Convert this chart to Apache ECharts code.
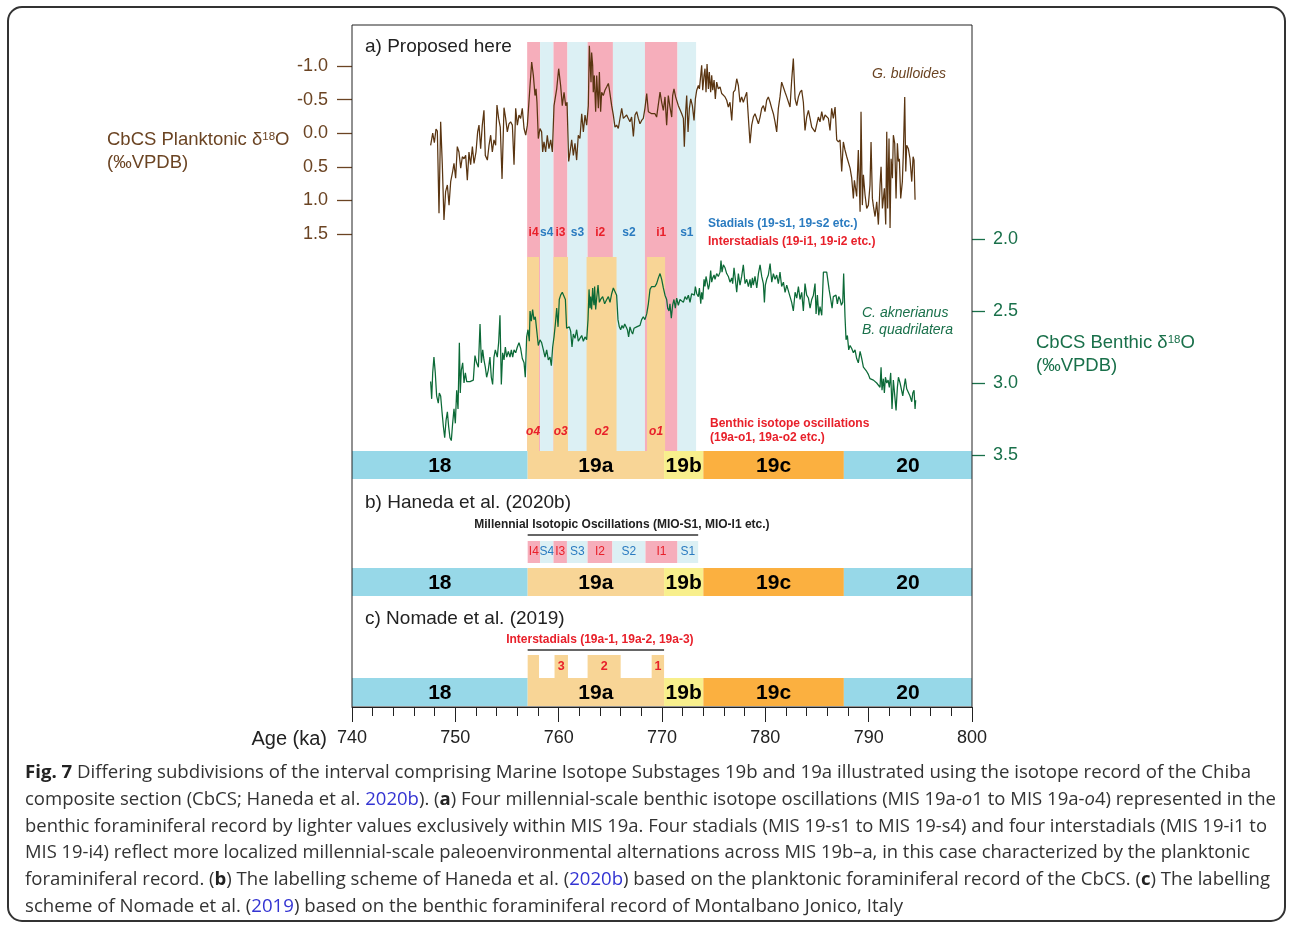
<!DOCTYPE html>
<html><head><meta charset="utf-8">
<script src="https://cdn.jsdelivr.net/npm/echarts@6/dist/echarts.min.js"></script>
<style>html,body{margin:0;padding:0;background:#fff}#c{width:1292px;height:925px}</style>
</head><body><div id="c"></div><script>
// ---------------- DATA ----------------
// Planktonic (G. bulloides) δ18O [age ka, ‰VPDB]
const planktonic = [[747.61,0.18],[747.81,0.00],[747.97,0.14],[748.13,-0.06],[748.26,-0.03],[748.42,1.19],[748.58,-0.17],[748.74,0.47],[748.90,1.29],[749.06,0.87],[749.23,0.77],[749.39,1.07],[749.55,0.72],[749.74,0.57],[749.87,0.45],[750.03,0.67],[750.19,0.20],[750.35,0.28],[750.52,0.52],[750.68,0.35],[750.84,0.38],[751.00,0.33],[751.16,0.70],[751.32,0.28],[751.48,0.47],[751.65,0.20],[751.81,0.45],[752.00,0.28],[752.16,-0.02],[752.29,-0.12],[752.45,0.23],[752.61,-0.12],[752.77,-0.34],[752.90,0.33],[753.10,0.40],[753.26,0.18],[753.42,0.03],[753.58,0.28],[753.74,0.10],[753.90,0.18],[754.03,-0.42],[754.19,-0.22],[754.35,-0.09],[754.52,0.68],[754.71,-0.38],[754.87,-0.22],[755.03,-0.02],[755.19,-0.14],[755.35,-0.17],[755.52,-0.12],[755.68,0.47],[755.84,-0.37],[756.00,-0.12],[756.16,-0.27],[756.32,-0.22],[756.48,-0.37],[756.65,-0.07],[756.81,0.03],[756.97,-0.12],[757.23,-0.71],[757.39,-1.06],[757.55,-0.86],[757.71,-0.56],[757.81,-0.66],[757.90,-0.46],[758.03,0.08],[758.19,-0.07],[758.35,-0.02],[758.45,0.28],[758.58,0.13],[758.74,0.28],[758.90,0.03],[759.06,0.23],[759.23,0.10],[759.39,0.28],[759.55,-0.41],[759.81,-0.66],[760.00,-0.96],[760.19,-0.71],[760.35,-0.41],[760.52,-0.61],[760.68,-0.41],[760.81,-0.46],[760.97,0.42],[761.10,0.28],[761.26,0.10],[761.42,0.33],[761.58,0.15],[761.74,0.40],[761.90,0.03],[762.06,0.08],[762.23,-0.29],[762.39,-0.02],[762.55,-0.27],[762.71,-0.12],[762.87,-0.41],[762.97,-1.30],[763.03,-1.11],[763.13,-0.76],[763.19,-1.20],[763.29,-1.01],[763.35,-0.61],[763.45,-0.86],[763.58,-0.32],[763.68,-0.86],[763.84,-0.37],[763.94,-0.91],[764.06,-0.32],[764.16,-0.61],[764.32,-0.56],[764.48,-0.64],[764.65,-0.69],[764.81,-0.74],[764.90,-0.66],[765.13,-0.41],[765.29,-0.27],[765.45,-0.09],[765.61,-0.12],[765.77,-0.07],[765.94,-0.09],[766.10,-0.37],[766.26,-0.22],[766.42,-0.24],[766.58,-0.27],[766.74,-0.22],[766.90,-0.17],[767.06,-0.24],[767.23,0.05],[767.39,-0.27],[767.55,-0.32],[767.71,-0.22],[767.87,-0.14],[768.03,-0.19],[768.19,-0.22],[768.35,-0.37],[768.52,-0.59],[768.68,-0.32],[768.84,-0.32],[769.00,-0.29],[769.16,-0.27],[769.32,-0.29],[769.48,-0.24],[769.81,-0.61],[769.97,-0.46],[770.13,-0.34],[770.29,-0.54],[770.45,-0.12],[770.61,-0.56],[770.77,-0.39],[770.94,-0.24],[771.03,-0.56],[771.16,-0.66],[771.32,-0.54],[771.42,-0.56],[771.58,-0.41],[771.91,-0.29],[772.07,-0.22],[772.16,0.20],[772.29,-0.32],[772.39,-0.56],[772.52,-0.02],[772.65,-0.37],[772.78,-0.51],[772.94,-0.41],[773.10,-0.19],[773.23,-0.51],[773.36,-0.64],[773.52,-0.71],[773.62,-0.66],[773.75,-0.86],[773.84,-1.01],[773.94,-0.64],[774.07,-0.86],[774.16,-0.96],[774.26,-0.61],[774.36,-1.03],[774.49,-0.66],[774.58,-0.91],[774.71,-0.61],[774.81,-0.86],[774.91,-0.64],[775.04,-0.79],[775.16,-0.51],[775.29,-0.76],[775.45,-0.66],[775.62,-0.69],[775.78,-0.59],[775.94,-0.61],[776.10,-0.54],[776.26,-0.49],[776.42,-0.39],[776.58,-0.46],[776.75,-0.19],[776.91,-0.61],[777.07,-0.64],[777.23,-0.81],[777.39,-0.71],[777.55,-0.46],[777.71,-0.54],[777.87,-0.46],[778.04,-0.54],[778.20,-0.61],[778.36,-0.61],[778.52,0.15],[778.68,-0.12],[778.84,-0.24],[779.00,-0.29],[779.16,-0.27],[779.33,-0.14],[779.49,-0.24],[779.65,-0.37],[779.81,-0.41],[779.97,-0.32],[780.13,-0.49],[780.29,-0.54],[780.46,-0.46],[780.62,-0.37],[780.78,-0.29],[780.94,-0.17],[781.10,-0.02],[781.26,-0.37],[781.42,-0.54],[781.58,-0.76],[781.75,-0.76],[781.91,-0.61],[782.07,-0.54],[782.23,-0.56],[782.39,-0.39],[782.55,-0.79],[782.71,-1.11],[782.88,-0.51],[783.04,-0.41],[783.20,-0.54],[783.36,-0.61],[783.52,-0.64],[783.68,-0.46],[783.84,-0.04],[784.00,-0.24],[784.17,-0.34],[784.33,-0.22],[784.49,-0.09],[784.65,-0.07],[784.81,-0.02],[784.97,0.00],[785.13,-0.24],[785.29,-0.17],[785.46,-0.32],[785.62,-0.19],[785.78,-0.27],[785.94,-0.29],[786.10,-0.22],[786.26,-0.04],[786.42,-0.37],[786.58,-0.22],[786.75,-0.39],[786.91,0.10],[787.07,0.13],[787.23,0.10],[787.39,0.57],[787.55,0.13],[787.71,0.25],[787.88,0.35],[788.04,0.35],[788.20,0.52],[788.36,0.67],[788.52,0.97],[788.62,0.70],[788.75,0.72],[788.84,0.94],[789.00,0.25],[789.17,1.17],[789.26,-0.32],[789.39,1.07],[789.49,0.62],[789.65,0.92],[789.81,1.12],[789.97,1.07],[790.13,0.77],[790.23,0.13],[790.36,0.97],[790.46,1.09],[790.62,1.24],[790.78,1.02],[790.94,1.36],[791.10,0.77],[791.20,0.50],[791.33,1.12],[791.42,1.14],[791.52,0.82],[791.65,1.36],[791.75,-0.02],[791.84,1.12],[791.97,0.08],[792.07,1.41],[792.17,0.38],[792.30,0.67],[792.39,0.03],[792.52,0.15],[792.65,0.97],[792.78,0.15],[792.88,0.42],[792.97,0.38],[793.10,0.97],[793.26,0.72],[793.36,0.28],[793.49,-0.54],[793.59,0.57],[793.68,0.18],[793.84,0.23],[794.00,0.38],[794.17,0.72],[794.30,0.35],[794.39,0.40],[794.49,0.99]];

// Benthic (C. aknerianus / B. quadrilatera) δ18O [age ka, ‰VPDB]
const benthic = [[747.61,2.99],[747.71,3.11],[747.81,2.93],[747.93,2.82],[748.06,2.93],[748.19,3.09],[748.35,3.14],[748.45,3.07],[748.58,3.09],[748.71,3.20],[748.84,3.30],[748.97,3.38],[749.10,3.26],[749.23,3.20],[749.35,3.30],[749.48,3.38],[749.61,3.40],[749.74,3.28],[749.87,3.18],[750.00,3.28],[750.13,3.05],[750.26,3.18],[750.39,2.72],[750.48,3.07],[750.58,2.91],[750.71,2.86],[750.84,3.00],[750.97,2.93],[751.10,2.99],[751.26,3.00],[751.42,2.99],[751.58,2.99],[751.74,2.98],[751.90,2.81],[752.06,2.86],[752.23,2.89],[752.39,2.59],[752.52,2.86],[752.65,2.77],[752.77,2.84],[752.90,2.89],[753.03,2.96],[753.19,2.91],[753.35,2.82],[753.48,2.96],[753.61,3.01],[753.74,2.82],[753.87,2.77],[754.06,2.82],[754.19,2.72],[754.32,2.53],[754.45,3.01],[754.58,2.79],[754.71,2.84],[754.84,2.75],[754.97,2.82],[755.13,2.78],[755.29,2.82],[755.42,2.77],[755.55,2.82],[755.68,2.77],[755.84,2.79],[756.00,2.75],[756.16,2.72],[756.32,2.76],[756.48,2.83],[756.65,2.86],[756.77,2.96],[756.90,2.68],[757.03,2.63],[757.16,2.71],[757.23,2.50],[757.35,2.57],[757.48,2.49],[757.61,2.56],[757.74,2.54],[757.87,2.63],[758.03,2.74],[758.19,2.70],[758.35,2.72],[758.52,2.77],[758.68,2.82],[758.84,2.77],[759.00,2.84],[759.16,2.82],[759.29,2.88],[759.42,2.75],[759.55,2.68],[759.68,2.59],[759.81,2.48],[759.94,2.61],[760.06,2.42],[760.19,2.39],[760.35,2.37],[760.52,2.38],[760.65,2.42],[760.77,2.62],[760.90,2.63],[761.03,2.61],[761.16,2.64],[761.29,2.75],[761.42,2.66],[761.58,2.69],[761.74,2.63],[761.90,2.71],[762.06,2.69],[762.23,2.67],[762.39,2.71],[762.55,2.68],[762.71,2.70],[762.84,2.56],[762.94,2.35],[763.03,2.48],[763.10,2.40],[763.19,2.49],[763.29,2.34],[763.35,2.42],[763.42,2.46],[763.48,2.33],[763.58,2.49],[763.68,2.41],[763.81,2.32],[763.94,2.44],[764.06,2.42],[764.26,2.40],[764.45,2.45],[764.65,2.42],[764.81,2.40],[764.97,2.44],[765.13,2.38],[765.29,2.34],[765.45,2.35],[765.61,2.39],[765.74,2.56],[765.87,2.61],[766.00,2.63],[766.13,2.60],[766.26,2.62],[766.39,2.59],[766.52,2.61],[766.65,2.63],[766.77,2.68],[766.90,2.61],[767.03,2.64],[767.16,2.66],[767.29,2.62],[767.42,2.61],[767.55,2.61],[767.71,2.61],[767.87,2.60],[768.03,2.56],[768.19,2.54],[768.35,2.56],[768.52,2.52],[768.68,2.45],[768.84,2.35],[769.00,2.33],[769.16,2.32],[769.32,2.33],[769.48,2.31],[769.65,2.27],[769.81,2.24],[769.97,2.28],[770.13,2.34],[770.29,2.39],[770.45,2.42],[770.55,2.48],[770.68,2.50],[770.77,2.45],[770.90,2.55],[771.03,2.46],[771.16,2.42],[771.29,2.48],[771.42,2.41],[771.58,2.46],[771.74,2.42],[771.91,2.41],[772.07,2.44],[772.23,2.40],[772.39,2.42],[772.55,2.39],[772.71,2.44],[772.87,2.38],[773.04,2.37],[773.13,2.39],[773.23,2.33],[773.36,2.38],[773.52,2.40],[773.62,2.34],[773.75,2.45],[773.84,2.37],[773.94,2.42],[774.07,2.28],[774.16,2.33],[774.26,2.26],[774.39,2.31],[774.49,2.35],[774.58,2.32],[774.71,2.22],[774.81,2.30],[774.91,2.27],[775.04,2.25],[775.13,2.28],[775.29,2.24],[775.45,2.26],[775.62,2.23],[775.71,2.15],[775.81,2.23],[775.94,2.18],[776.10,2.20],[776.26,2.24],[776.42,2.26],[776.58,2.30],[776.75,2.27],[776.84,2.31],[776.97,2.20],[777.10,2.28],[777.23,2.37],[777.39,2.24],[777.55,2.32],[777.71,2.26],[777.87,2.18],[778.04,2.31],[778.20,2.28],[778.36,2.33],[778.52,2.28],[778.62,2.34],[778.75,2.27],[778.84,2.32],[779.00,2.26],[779.17,2.34],[779.33,2.24],[779.49,2.18],[779.65,2.26],[779.81,2.31],[779.91,2.44],[780.00,2.32],[780.13,2.28],[780.29,2.25],[780.46,2.17],[780.62,2.30],[780.78,2.24],[780.94,2.28],[781.10,2.25],[781.26,2.31],[781.42,2.23],[781.58,2.33],[781.75,2.30],[781.91,2.37],[782.07,2.32],[782.23,2.31],[782.39,2.40],[782.55,2.44],[782.71,2.50],[782.88,2.37],[783.04,2.41],[783.20,2.33],[783.36,2.42],[783.52,2.37],[783.68,2.50],[783.84,2.31],[784.00,2.39],[784.17,2.41],[784.33,2.48],[784.49,2.42],[784.65,2.39],[784.81,2.31],[784.91,2.52],[785.04,2.39],[785.17,2.53],[785.29,2.47],[785.46,2.53],[785.62,2.23],[785.78,2.23],[785.94,2.23],[786.04,2.24],[786.17,2.35],[786.33,2.42],[786.46,2.48],[786.58,2.40],[786.71,2.41],[786.84,2.39],[786.97,2.45],[787.10,2.40],[787.23,2.42],[787.36,2.46],[787.49,2.44],[787.58,2.24],[787.71,2.54],[787.81,2.70],[787.94,2.67],[788.07,2.77],[788.20,2.74],[788.36,2.76],[788.52,2.79],[788.68,2.77],[788.84,2.83],[789.00,2.86],[789.17,2.78],[789.33,2.83],[789.49,2.89],[789.65,2.90],[789.81,2.92],[789.97,2.94],[790.13,2.97],[790.29,2.96],[790.46,2.98],[790.62,2.97],[790.78,3.00],[790.94,2.99],[791.10,3.03],[791.20,2.89],[791.29,3.05],[791.42,2.97],[791.52,3.07],[791.62,2.96],[791.75,3.00],[791.88,2.98],[792.00,3.03],[792.13,2.93],[792.26,3.18],[792.39,2.98],[792.52,2.97],[792.65,3.19],[792.78,3.03],[792.88,2.96],[793.04,3.00],[793.17,2.99],[793.30,3.09],[793.42,3.03],[793.55,2.97],[793.68,3.04],[793.84,3.05],[794.00,3.09],[794.17,3.13],[794.27,3.07],[794.39,3.05],[794.49,3.18],[794.55,3.12]];

// Marine isotope (sub)stages
const misNames = ['18','19a','19b','19c','20'];
const misBounds = [740, 757.0, 770.2, 774.0, 787.6, 800];
// a) stadials / interstadials (boundaries)
const panelANames = ['i4','s4','i3','s3','i2','s2','i1','s1'];
const panelABounds = [756.95, 758.2, 759.5, 760.85, 762.8, 765.25, 768.35, 771.5, 773.3];
// a) benthic isotope oscillations
const oscNames = ['o4','o3','o2','o1'];
const oscStart = [756.95, 759.5, 762.7, 768.55];
const oscEnd   = [758.1, 760.9, 765.6, 770.3];
// b) Haneda et al. MIO
const mioNames = ['I4','S4','I3','S3','I2','S2','I1','S1'];
const mioBounds = [757.0, 758.2, 759.5, 760.8, 762.8, 765.2, 768.4, 771.5, 773.5];
// c) Nomade et al. interstadials
const nomadeNames = ['','3','2','1'];
const nomadeStart = [757.0, 759.6, 762.8, 769.0];
const nomadeEnd   = [758.1, 760.9, 766.0, 770.2];

// ---------------- STYLE ----------------
const COL = {pink:'#f6aebb', sky:'#dcf0f4', sand:'#f8d596', mblue:'#97d8e8', yellow:'#f8ef8c', orange:'#fbb040',
  red:'#e8202a', sblue:'#2a7bc0', brown:'#5a3511', brownTxt:'#6b4423', green:'#0c6a37', greenTxt:'#19704a', ink:'#222'};
const misFill = {'18':COL.mblue,'19a':COL.sand,'19b':COL.yellow,'19c':COL.orange,'20':COL.mblue};
const AF = 'Liberation Sans, Arial, sans-serif';

const chart = echarts.init(document.getElementById('c'), null, {renderer:'canvas'});

function rectSeries(starts, ends, fills, y0, y1, labels, lblY, lblStyle, z) {
  return {
    type:'custom', xAxisIndex:0, yAxisIndex:0, z:z||1, silent:true, clip:false,
    data: starts.map((s,i)=>[s, ends[i], 0]),
    encode:{x:[0,1], y:2},
    renderItem(params, api) {
      const i = params.dataIndex;
      const xa = api.coord([api.value(0),0])[0], xb = api.coord([api.value(1),0])[0];
      const ch = [{type:'rect', shape:{x:xa, y:y0, width:xb-xa, height:y1-y0}, style:{fill:fills[i]}}];
      if (labels && labels[i]) {
        const st = typeof lblStyle === 'function' ? lblStyle(i) : lblStyle;
        ch.push({type:'text', style:Object.assign({text:labels[i], x:(xa+xb)/2, y:lblY, align:'center', verticalAlign:'middle'}, st)});
      }
      return {type:'group', children:ch};
    }
  };
}
function bracketSeries(a, b, yLine, text, yText, color, dx) {
  return {
    type:'custom', xAxisIndex:0, yAxisIndex:0, z:3, silent:true, clip:false,
    data:[[a,b,0]], encode:{x:[0,1], y:2},
    renderItem(params, api) {
      const xa = api.coord([api.value(0),0])[0], xb = api.coord([api.value(1),0])[0];
      return {type:'group', children:[
        {type:'line', shape:{x1:xa, y1:yLine, x2:xb, y2:yLine}, style:{stroke:'#333', lineWidth:1.3}},
        {type:'text', style:{text:text, x:(xa+xb)/2 + dx, y:yText, align:'center', verticalAlign:'middle', fill:color, fontSize:12, fontWeight:'bold', fontFamily:AF}}
      ]};
    }
  };
}
const lo = a => a.slice(0,-1), hi = a => a.slice(1);
const isFill = n => n.toLowerCase().startsWith('i') ? COL.pink : COL.sky;
const isColor = n => n.toLowerCase().startsWith('i') ? COL.red : COL.sblue;
const misLabel = {fill:'#000', fontSize:21, fontWeight:'bold', fontFamily:AF};

const series = [
  // panel a bands
  rectSeries(lo(panelABounds), hi(panelABounds), panelANames.map(isFill), 42, 451, panelANames, 233,
    i => ({fill:isColor(panelANames[i]), fontSize:12, fontWeight:'bold', fontFamily:AF}), 1),
  rectSeries(oscStart, oscEnd, oscNames.map(()=>COL.sand), 257, 451, oscNames, 432,
    {fill:COL.red, fontSize:12, fontWeight:'bold', fontStyle:'italic', fontFamily:AF}, 2),
  rectSeries(lo(misBounds), hi(misBounds), misNames.map(n=>misFill[n]), 451, 479, misNames, 466, misLabel, 3),
  // panel b
  rectSeries(lo(mioBounds), hi(mioBounds), mioNames.map(isFill), 541, 563, mioNames, 552,
    i => ({fill:isColor(mioNames[i]), fontSize:12, fontFamily:AF}), 1),
  bracketSeries(mioBounds[0], mioBounds[mioBounds.length-1], 535, 'Millennial Isotopic Oscillations (MIO-S1, MIO-I1 etc.)', 525, COL.ink, 9),
  rectSeries(lo(misBounds), hi(misBounds), misNames.map(n=>misFill[n]), 568, 596, misNames, 583, misLabel, 3),
  // panel c
  rectSeries(nomadeStart, nomadeEnd, nomadeNames.map(()=>COL.sand), 655, 679, nomadeNames, 667,
    {fill:COL.red, fontSize:12.5, fontWeight:'bold', fontFamily:AF}, 1),
  bracketSeries(nomadeStart[0], nomadeEnd[nomadeEnd.length-1], 650, 'Interstadials (19a-1, 19a-2, 19a-3)', 640, COL.red, 4),
  rectSeries(lo(misBounds), hi(misBounds), misNames.map(n=>misFill[n]), 678, 706, misNames, 693, misLabel, 3),
  // isotope curves
  {type:'line', xAxisIndex:1, yAxisIndex:1, data:planktonic, symbol:'none', clip:false, silent:true, z:5,
   lineStyle:{color:COL.brown, width:1.25}},
  {type:'line', xAxisIndex:2, yAxisIndex:2, data:benthic, symbol:'none', clip:false, silent:true, z:5,
   lineStyle:{color:COL.green, width:1.25}}
];

// caption
const capStyles = {
  n:{fontFamily:'Open Sans', fontSize:18, fill:'#333'},
  b:{fontFamily:'Open Sans', fontSize:18, fill:'#222', fontWeight:'bold'},
  l:{fontFamily:'Open Sans', fontSize:18, fill:'#3434d2'},
  i:{fontFamily:'Open Sans', fontSize:18, fill:'#333', fontStyle:'italic'}
};
const captionLines = [
  [['b','Fig. 7'],['n',' Differing subdivisions of the interval comprising Marine Isotope Substages 19b and 19a illustrated using the isotope record of the Chiba']],
  [['n','composite section (CbCS; Haneda et al. '],['l','2020b'],['n','). ('],['b','a'],['n',') Four millennial-scale benthic isotope oscillations (MIS 19a-'],['i','o'],['n','1 to MIS 19a-'],['i','o'],['n','4) represented in the']],
  [['n','benthic foraminiferal record by lighter values exclusively within MIS 19a. Four stadials (MIS 19-s1 to MIS 19-s4) and four interstadials (MIS 19-i1 to']],
  [['n','MIS 19-i4) reflect more localized millennial-scale paleoenvironmental alternations across MIS 19b–a, in this case characterized by the planktonic']],
  [['n','foraminiferal record. ('],['b','b'],['n',') The labelling scheme of Haneda et al. ('],['l','2020b'],['n',') based on the planktonic foraminiferal record of the CbCS. ('],['b','c'],['n',') The labelling']],
  [['n','scheme of Nomade et al. ('],['l','2019'],['n',') based on the benthic foraminiferal record of Montalbano Jonico, Italy']]
];
const capWidths = [1226, 1251, 1242, 1225, 1245, 878];
const capY = [773, 800, 827, 853, 880, 907];
const mctx = document.createElement('canvas').getContext('2d');
function segWidth(seg) {
  const st = capStyles[seg[0]];
  mctx.font = `${st.fontStyle||'normal'} ${st.fontWeight||'normal'} ${st.fontSize}px "${st.fontFamily}"`;
  return mctx.measureText(seg[1]).width;
}
const graphics = [];
captionLines.forEach((line, k) => {
  const w = line.reduce((s, seg) => s + segWidth(seg), 0);
  graphics.push({type:'text', x:25, y:capY[k], scaleX:capWidths[k]/w, z:20,
    style:{text: line.map(s => `{${s[0]}|${s[1]}}`).join(''), rich:capStyles, verticalAlign:'middle', align:'left'}});
});

function txt(x, y, text, st) {
  graphics.push({type:'text', x, y, z:20, style:Object.assign({text, verticalAlign:'middle', align:'left', fontFamily:AF}, st)});
}
txt(365, 47, 'a) Proposed here', {fill:COL.ink, fontSize:19});
txt(365, 503, 'b) Haneda et al. (2020b)', {fill:COL.ink, fontSize:19});
txt(365, 619, 'c) Nomade et al. (2019)', {fill:COL.ink, fontSize:19});
txt(872, 74, 'G. bulloides', {fill:COL.brownTxt, fontSize:14, fontStyle:'italic'});
txt(862, 313, 'C. aknerianus', {fill:COL.greenTxt, fontSize:14, fontStyle:'italic'});
txt(862, 330, 'B. quadrilatera', {fill:COL.greenTxt, fontSize:14, fontStyle:'italic'});
txt(708, 224, 'Stadials (19-s1, 19-s2 etc.)', {fill:COL.sblue, fontSize:12, fontWeight:'bold'});
txt(708, 242, 'Interstadials (19-i1, 19-i2 etc.)', {fill:COL.red, fontSize:12, fontWeight:'bold'});
txt(710, 424, 'Benthic isotope oscillations', {fill:COL.red, fontSize:12, fontWeight:'bold'});
txt(710, 438, '(19a-o1, 19a-o2 etc.)', {fill:COL.red, fontSize:12, fontWeight:'bold'});
txt(327, 739, 'Age (ka)', {fill:COL.ink, fontSize:20, align:'right'});
const supRich = c => ({t:{fontSize:18.5, fill:c, fontFamily:AF}, s:{fontSize:11.5, fill:c, fontFamily:AF, verticalAlign:'top'}});
graphics.push({type:'text', x:107, y:140, z:20, style:{text:'{t|CbCS Planktonic δ}{s|18}{t|O}', rich:supRich(COL.brownTxt), verticalAlign:'middle'}});
txt(107, 163, '(‰VPDB)', {fill:COL.brownTxt, fontSize:18.5});
graphics.push({type:'text', x:1036, y:343, z:20, style:{text:'{t|CbCS Benthic δ}{s|18}{t|O}', rich:supRich(COL.greenTxt), verticalAlign:'middle'}});
txt(1036, 366, '(‰VPDB)', {fill:COL.greenTxt, fontSize:18.5});
// frame of the plot and outer page border
graphics.push({type:'rect', z:50, shape:{x:352, y:25, width:620, height:682}, style:{fill:null, stroke:'#222', lineWidth:1}});
graphics.push({type:'rect', z:50, shape:{x:8, y:7, width:1277, height:914, r:14}, style:{fill:null, stroke:'#333', lineWidth:2}});

const gridPos = {left:352, width:620};
const option = {
  animation:false,
  backgroundColor:'#fff',
  grid:[
    Object.assign({top:25, height:682}, gridPos),
    Object.assign({top:66, height:168}, gridPos),
    Object.assign({top:239, height:216}, gridPos)
  ],
  xAxis:[
    {gridIndex:0, type:'value', min:740, max:800, interval:10, position:'bottom',
     axisLine:{show:true, lineStyle:{color:'#222', width:1}},
     axisTick:{show:true, length:15, lineStyle:{color:'#222', width:1}},
     minorTick:{show:true, splitNumber:5, length:9, lineStyle:{color:'#222', width:1}},
     axisLabel:{fontSize:18, color:COL.ink, margin:22, fontFamily:AF, showMinLabel:true, showMaxLabel:true},
     splitLine:{show:false}, minorSplitLine:{show:false}, z:10},
    {gridIndex:1, type:'value', min:740, max:800, show:false},
    {gridIndex:2, type:'value', min:740, max:800, show:false}
  ],
  yAxis:[
    {gridIndex:0, type:'value', min:0, max:1, show:false},
    {gridIndex:1, type:'value', min:-1, max:1.5, interval:0.5, inverse:true, position:'left',
     axisLine:{show:false}, axisTick:{show:true, length:15, lineStyle:{color:COL.brownTxt, width:1.3}},
     axisLabel:{fontSize:18, color:COL.brownTxt, margin:24, fontFamily:AF, formatter:v=>v.toFixed(1)},
     splitLine:{show:false}},
    {gridIndex:2, type:'value', min:2, max:3.5, interval:0.5, inverse:true, position:'right',
     axisLine:{show:false}, axisTick:{show:true, length:13, lineStyle:{color:COL.greenTxt, width:1.3}},
     axisLabel:{fontSize:18, color:COL.greenTxt, margin:21, fontFamily:AF, formatter:v=>v.toFixed(1)},
     splitLine:{show:false}}
  ],
  series,
  graphic:{elements:graphics}
};
chart.setOption(option);
</script></body></html>
